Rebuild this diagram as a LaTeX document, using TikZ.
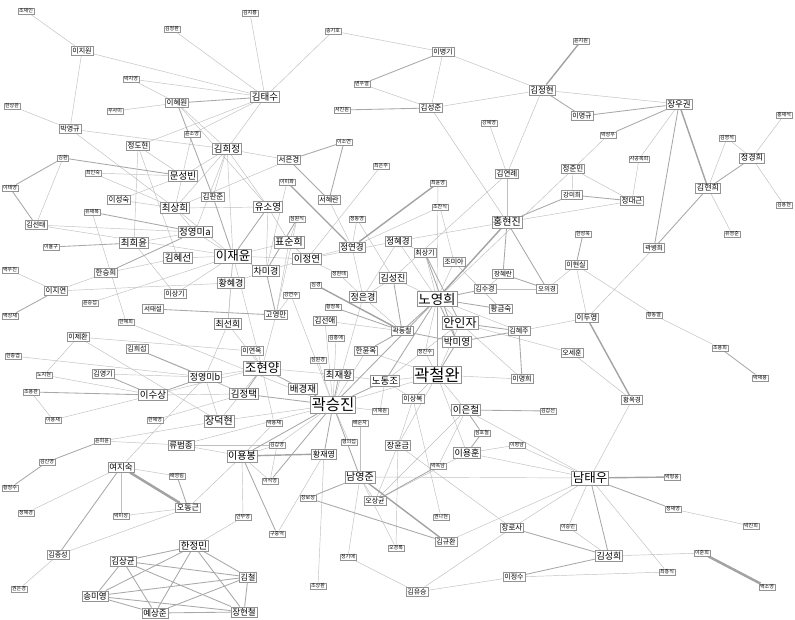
\documentclass[tikz,border=0pt]{standalone}
\usepackage{fontspec}
\setmainfont{Noto Sans CJK KR}
\usetikzlibrary{backgrounds}
\tikzset{
  nd/.style={draw=gray!85, fill=white, rectangle, inner sep=1.3pt, line width=0.6pt, text=black},
  nf/.style={nd, font=\fontsize{#1}{#1}\selectfont},
  ea/.style={draw=gray!50, line width=0.45pt},
  eb/.style={draw=gray!68, line width=0.85pt},
  ec/.style={draw=gray!72, line width=1.4pt},
  ed/.style={draw=gray!72, line width=2.5pt},
}
\begin{document}
\begin{tikzpicture}[x=1pt,y=-1pt]
\useasboundingbox (0,0) rectangle (795,620);
% nodes
\node[nf=5,inner sep=0.9pt] (n01) at (26,11) {조재인};
\node[nf=5,inner sep=0.9pt] (n02) at (250,13) {김지룡};
\node[nf=5,inner sep=0.9pt] (n03) at (172,29) {김정환};
\node[nf=5,inner sep=0.9pt] (n04) at (333,31) {송기호};
\node[nf=5,inner sep=0.9pt] (n05) at (581,41) {윤지원};
\node[nf=7] (n06) at (82,51) {이지원};
\node[nf=5,inner sep=0.9pt] (n07) at (131,79) {박지영};
\node[nf=7] (n08) at (443,52) {이병기};
\node[nf=8.5] (n09) at (542,90) {김정현};
\node[nf=5,inner sep=0.9pt] (n10) at (362,84) {변우열};
\node[nf=9.5] (n11) at (265,97) {김태수};
\node[nf=7.5] (n12) at (177,103) {이혜원};
\node[nf=5,inner sep=0.9pt] (n13) at (115,111) {우사미};
\node[nf=5,inner sep=0.9pt] (n14) at (12,106) {한상완};
\node[nf=5,inner sep=0.9pt] (n15) at (342,110) {서진원};
\node[nf=7.5] (n16) at (431,108) {김성준};
\node[nf=7] (n17) at (582,116) {이명규};
\node[nf=8.5] (n18) at (679,104) {장우권};
\node[nf=5,inner sep=0.9pt] (n19) at (489,123) {강혜영};
\node[nf=7] (n20) at (70,129) {박영규};
\node[nf=5,inner sep=0.9pt] (n21) at (192,134) {윤소영};
\node[nf=5,inner sep=0.9pt] (n22) at (608,135) {박성우};
\node[nf=5,inner sep=0.9pt] (n23) at (727,138) {김영석};
\node[nf=5,inner sep=0.9pt] (n24) at (784,115) {홍재석};
\node[nf=7.5] (n25) at (138,146) {정도현};
\node[nf=9.5] (n26) at (227,149) {김희정};
\node[nf=5,inner sep=0.9pt] (n27) at (344,142) {이소연};
\node[nf=7.5] (n28) at (289,160) {서은경};
\node[nf=5,inner sep=0.9pt] (n29) at (381,166) {최은주};
\node[nf=8] (n30) at (752,158) {정경희};
\node[nf=5,inner sep=0.9pt] (n31) at (639,159) {사공복희};
\node[nf=5,inner sep=0.9pt] (n32) at (63,158) {김환};
\node[nf=7.5] (n33) at (573,169) {정준민};
\node[nf=7.5] (n34) at (507,174) {김연례};
\node[nf=5,inner sep=0.9pt] (n35) at (93,173) {최인숙};
\node[nf=9.5] (n36) at (183,176) {문성빈};
\node[nf=5,inner sep=0.9pt] (n37) at (287,182) {이미화};
\node[nf=5,inner sep=0.9pt] (n38) at (438,183) {최윤영};
\node[nf=5,inner sep=0.9pt] (n39) at (10,188) {이태영};
\node[nf=8] (n40) at (708,188) {김현희};
\node[nf=6.5] (n41) at (572,195) {강미희};
\node[nf=7.5] (n42) at (632,201) {정대근};
\node[nf=7.5] (n43) at (119,200) {이성숙};
\node[nf=7.5] (n44) at (213,197) {김판준};
\node[nf=7] (n45) at (329,200) {서혜란};
\node[nf=9.5] (n46) at (175,208) {최상희};
\node[nf=9.5] (n47) at (268,207) {유소영};
\node[nf=5,inner sep=0.9pt] (n48) at (440,207) {조찬식};
\node[nf=5,inner sep=0.9pt] (n49) at (784,205) {김용현};
\node[nf=5,inner sep=0.9pt] (n50) at (92,212) {유재복};
\node[nf=7] (n51) at (36,225) {김선태};
\node[nf=10] (n52) at (507,222) {홍현진};
\node[nf=9.5] (n53) at (195,232) {정영미a};
\node[nf=9.5] (n54) at (134,243) {최희윤};
\node[nf=5,inner sep=0.9pt] (n55) at (51,247) {이율구};
\node[nf=5,inner sep=0.9pt] (n56) at (297,219) {심원식};
\node[nf=5,inner sep=0.9pt] (n57) at (357,219) {정동영};
\node[nf=10] (n58) at (289,242) {표순희};
\node[nf=8.5] (n59) at (352,247) {정연경};
\node[nf=8.5] (n60) at (398,241) {정혜경};
\node[nf=5,inner sep=0.9pt] (n61) at (583,234) {한성욱};
\node[nf=5,inner sep=0.9pt] (n62) at (732,234) {유영준};
\node[nf=6.5] (n63) at (654,248) {곽병희};
\node[nf=9.5] (n64) at (178,258) {김혜선};
\node[nf=12.5] (n65) at (233,256) {이재윤};
\node[nf=9.5] (n66) at (307,259) {이정연};
\node[nf=7] (n67) at (425,253) {최상기};
\node[nf=7] (n68) at (454,262) {조미아};
\node[nf=7] (n69) at (576,265) {이현실};
\node[nf=7.5] (n70) at (106,273) {한승희};
\node[nf=5,inner sep=0.9pt] (n71) at (10,270) {백우진};
\node[nf=9] (n72) at (266,271) {차미경};
\node[nf=5,inner sep=0.9pt] (n73) at (339,274) {정현태};
\node[nf=9] (n74) at (393,278) {김성진};
\node[nf=6.5] (n75) at (503,274) {장혜란};
\node[nf=7.5] (n76) at (56,291) {이지연};
\node[nf=9] (n77) at (231,283) {황혜경};
\node[nf=5,inner sep=0.9pt] (n78) at (316,285) {심경};
\node[nf=7] (n79) at (485,289) {김수경};
\node[nf=6.5] (n80) at (547,289) {오의경};
\node[nf=5,inner sep=0.9pt] (n81) at (90,303) {윤승섭};
\node[nf=7] (n82) at (175,294) {이상기};
\node[nf=5,inner sep=0.9pt] (n83) at (291,295) {강연수};
\node[nf=9] (n84) at (363,297) {정은경};
\node[nf=13.5] (n85) at (437,299) {노영희};
\node[nf=6.5] (n86) at (153,309) {서태설};
\node[nf=5,inner sep=0.9pt] (n87) at (333,307) {황정목};
\node[nf=7.5] (n88) at (501,309) {황금숙};
\node[nf=5,inner sep=0.9pt] (n89) at (10,316) {백성재};
\node[nf=7.5] (n90) at (276,315) {고영만};
\node[nf=7.5] (n91) at (325,321) {김선애};
\node[nf=5,inner sep=0.9pt] (n92) at (654,315) {황동열};
\node[nf=7.5] (n93) at (587,318) {이두영};
\node[nf=5,inner sep=0.9pt] (n94) at (126,322) {한혜희};
\node[nf=9] (n95) at (228,324) {최선희};
\node[nf=12] (n96) at (460,323) {안인자};
\node[nf=7] (n97) at (402,331) {곽동철};
\node[nf=7] (n98) at (519,331) {김혜주};
\node[nf=7] (n99) at (78,337) {이제환};
\node[nf=5,inner sep=0.9pt] (n100) at (336,338) {김홍애};
\node[nf=9.5] (n101) at (457,342) {박미영};
\node[nf=7] (n102) at (137,349) {김희섭};
\node[nf=7] (n103) at (252,351) {이연옥};
\node[nf=7.5] (n104) at (366,351) {한윤옥};
\node[nf=5,inner sep=0.9pt] (n105) at (425,352) {정진수};
\node[nf=7] (n106) at (572,353) {오세훈};
\node[nf=5,inner sep=0.9pt] (n107) at (720,348) {조용희};
\node[nf=5,inner sep=0.9pt] (n108) at (13,356) {한종엽};
\node[nf=5,inner sep=0.9pt] (n109) at (318,360) {심원경};
\node[nf=12.5] (n110) at (262,368) {조현양};
\node[nf=5,inner sep=0.9pt] (n111) at (44,375) {노지현};
\node[nf=7] (n112) at (103,374) {김영기};
\node[nf=9] (n113) at (205,377) {정영미b};
\node[nf=9.5] (n114) at (339,375) {최재황};
\node[nf=16.5] (n115) at (437,375) {곽철완};
\node[nf=9.5] (n116) at (385,381) {노동조};
\node[nf=7] (n117) at (522,379) {이명희};
\node[nf=5,inner sep=0.9pt] (n118) at (760,378) {박재용};
\node[nf=5,inner sep=0.9pt] (n119) at (31,392) {조용완};
\node[nf=9.5] (n120) at (153,395) {이수상};
\node[nf=9.5] (n121) at (303,389) {배경재};
\node[nf=9.5] (n122) at (244,394) {김정택};
\node[nf=7] (n123) at (413,399) {이상복};
\node[nf=6.5] (n124) at (632,400) {황옥경};
\node[nf=15.5] (n125) at (333,405) {곽승진};
\node[nf=5,inner sep=0.9pt] (n126) at (380,411) {이혜원};
\node[nf=9.5] (n127) at (466,410) {이은철};
\node[nf=5,inner sep=0.9pt] (n128) at (548,411) {김갑선};
\node[nf=5,inner sep=0.9pt] (n129) at (53,420) {이용재};
\node[nf=5,inner sep=0.9pt] (n130) at (155,420) {한혜영};
\node[nf=10] (n131) at (219,421) {장덕현};
\node[nf=5,inner sep=0.9pt] (n132) at (274,423) {박용재};
\node[nf=5,inner sep=0.9pt] (n133) at (360,423) {배순자};
\node[nf=5,inner sep=0.9pt] (n134) at (482,433) {심호철};
\node[nf=5,inner sep=0.9pt] (n135) at (102,441) {윤희윤};
\node[nf=8.5] (n136) at (181,445) {류범종};
\node[nf=5,inner sep=0.9pt] (n137) at (277,445) {김갑영};
\node[nf=5,inner sep=0.9pt] (n138) at (349,442) {형의섭};
\node[nf=8] (n139) at (398,445) {장윤금};
\node[nf=5,inner sep=0.9pt] (n140) at (517,445) {이명남};
\node[nf=10] (n141) at (242,456) {이용봉};
\node[nf=8] (n142) at (324,454) {황재영};
\node[nf=9] (n143) at (467,453) {이용훈};
\node[nf=5,inner sep=0.9pt] (n144) at (47,462) {김신영};
\node[nf=8.5] (n145) at (121,467) {여지숙};
\node[nf=5,inner sep=0.9pt] (n146) at (438,466) {박옥남};
\node[nf=5,inner sep=0.9pt] (n147) at (177,476) {배영림};
\node[nf=10] (n148) at (360,477) {남영준};
\node[nf=12.5] (n149) at (590,478) {남태우};
\node[nf=5,inner sep=0.9pt] (n150) at (672,477) {박형웅};
\node[nf=5,inner sep=0.9pt] (n151) at (270,481) {이석영};
\node[nf=5,inner sep=0.9pt] (n152) at (10,488) {황정수};
\node[nf=5,inner sep=0.9pt] (n153) at (308,498) {장보성};
\node[nf=7] (n154) at (375,501) {오상균};
\node[nf=8] (n155) at (188,508) {오동근};
\node[nf=5,inner sep=0.9pt] (n156) at (26,513) {정혜경};
\node[nf=5,inner sep=0.9pt] (n157) at (121,516) {박미성};
\node[nf=5,inner sep=0.9pt] (n158) at (243,517) {안부영};
\node[nf=5,inner sep=0.9pt] (n159) at (441,517) {권나현};
\node[nf=5,inner sep=0.9pt] (n160) at (673,509) {정재영};
\node[nf=5,inner sep=0.9pt] (n161) at (751,526) {박진희};
\node[nf=5,inner sep=0.9pt] (n162) at (277,534) {구중억};
\node[nf=7.5] (n163) at (512,528) {장로사};
\node[nf=5,inner sep=0.9pt] (n164) at (568,527) {이승민};
\node[nf=7] (n165) at (446,542) {김규환};
\node[nf=9.5] (n166) at (194,546) {한정민};
\node[nf=5,inner sep=0.9pt] (n167) at (396,548) {오경록};
\node[nf=5,inner sep=0.9pt] (n168) at (348,557) {정기애};
\node[nf=7] (n169) at (58,555) {김종성};
\node[nf=8.5] (n170) at (123,561) {김상균};
\node[nf=9] (n171) at (609,556) {김성희};
\node[nf=5,inner sep=0.9pt] (n172) at (702,553) {이준희};
\node[nf=8] (n173) at (248,577) {김철};
\node[nf=7] (n174) at (514,577) {이정수};
\node[nf=5,inner sep=0.9pt] (n175) at (667,572) {최흥식};
\node[nf=5,inner sep=0.9pt] (n176) at (767,587) {백소영};
\node[nf=5,inner sep=0.9pt] (n177) at (19,589) {권은경};
\node[nf=5,inner sep=0.9pt] (n178) at (318,586) {조상환};
\node[nf=8.5] (n179) at (95,596) {송미영};
\node[nf=7] (n180) at (417,592) {김유승};
\node[nf=8.5] (n181) at (244,612) {장현철};
\node[nf=8.5] (n182) at (155,613) {예상준};
% edges
\begin{pgfonlayer}{background}
\fill[white] (0,0) rectangle (795,620);
\foreach \a/\b in {n01/n06, n03/n11, n06/n11, n06/n20, n07/n11, n07/n12, n13/n12, n14/n20, n20/n26, n20/n46, n25/n11, n21/n11, n25/n36, n25/n54, n25/n64, n12/n26, n12/n47, n21/n46, n32/n51, n35/n36, n35/n46, n43/n36, n43/n46, n11/n26, n26/n44, n26/n46, n26/n47, n26/n28, n26/n36, n26/n65, n26/n53, n02/n11, n04/n11, n04/n08, n10/n16, n08/n09, n08/n16, n16/n09, n16/n52, n09/n18, n09/n34, n19/n34, n34/n52, n34/n74, n22/n33, n33/n41, n33/n85, n48/n68, n48/n59, n18/n31, n31/n42, n23/n40, n23/n30, n30/n24, n30/n49, n40/n62, n42/n33, n42/n52, n28/n46, n29/n66, n37/n72, n45/n59, n47/n58, n47/n72, n47/n46, n56/n58, n56/n90, n57/n59, n57/n74, n60/n52, n60/n66, n60/n84, n60/n85, n67/n85, n67/n60, n68/n85, n68/n88, n79/n80, n75/n79, n80/n69, n96/n85, n96/n106, n96/n117, n96/n115, n98/n93, n98/n85, n85/n74, n85/n105, n115/n105, n115/n117, n115/n104, n115/n143, n115/n127, n115/n123, n115/n125, n116/n115, n116/n96, n116/n123, n93/n63, n93/n69, n69/n92, n92/n107, n124/n106, n124/n149, n53/n51, n53/n54, n53/n65, n53/n46, n65/n58, n65/n72, n65/n81, n65/n46, n65/n82, n65/n110, n65/n66, n65/n95, n64/n70, n64/n65, n70/n76, n76/n71, n76/n77, n77/n65, n77/n72, n77/n95, n82/n54, n51/n65, n50/n94, n94/n125, n95/n113, n95/n110, n103/n99, n103/n110, n90/n58, n90/n83, n90/n110, n83/n125, n66/n58, n66/n72, n66/n59, n59/n84, n74/n84, n84/n97, n91/n97, n91/n125, n100/n125, n104/n125, n109/n125, n84/n125, n114/n110, n114/n116, n122/n113, n122/n102, n113/n112, n113/n108, n113/n110, n113/n131, n120/n111, n120/n129, n120/n110, n120/n122, n119/n129, n99/n111, n99/n131, n130/n122, n131/n135, n131/n125, n131/n110, n135/n136, n136/n141, n136/n137, n136/n125, n145/n147, n145/n157, n145/n156, n145/n113, n155/n157, n155/n169, n155/n141, n169/n177, n132/n141, n132/n110, n133/n148, n138/n125, n137/n141, n137/n125, n151/n137, n151/n141, n158/n141, n158/n166, n162/n142, n168/n180, n168/n148, n178/n142, n139/n115, n139/n123, n139/n154, n154/n148, n154/n143, n154/n127, n146/n127, n159/n123, n165/n149, n163/n149, n163/n180, n163/n139, n180/n174, n174/n175, n171/n164, n171/n172, n164/n149, n149/n175, n149/n143, n149/n140, n149/n127, n148/n149, n160/n161, n140/n143, n126/n125, n126/n116, n167/n148, n167/n139, n73/n66, n73/n84, n38/n85}
  \draw[ea] (\a) -- (\b);
\foreach \a/\b in {n12/n11, n12/n44, n32/n36, n32/n39, n39/n51, n10/n08, n15/n16, n09/n17, n18/n17, n18/n22, n18/n63, n40/n63, n30/n40, n41/n42, n41/n52, n27/n28, n27/n45, n28/n45, n44/n65, n47/n65, n56/n72, n53/n50, n53/n70, n54/n55, n76/n89, n86/n90, n72/n90, n67/n96, n67/n101, n79/n85, n75/n52, n75/n80, n80/n52, n88/n85, n96/n98, n98/n101, n98/n117, n101/n85, n101/n115, n101/n97, n85/n115, n85/n97, n85/n116, n87/n97, n104/n97, n74/n97, n61/n69, n107/n118, n114/n125, n116/n125, n121/n110, n121/n125, n122/n110, n122/n125, n113/n102, n113/n120, n120/n112, n120/n119, n125/n141, n125/n142, n125/n148, n125/n85, n141/n162, n151/n125, n148/n153, n153/n165, n146/n154, n134/n127, n134/n143, n127/n128, n163/n171, n171/n149, n174/n171, n149/n160, n145/n169, n155/n147, n144/n135, n144/n152,
  n170/n179, n170/n182, n170/n173, n170/n181, n170/n166, n179/n166, n179/n173, n179/n181, n179/n182, n182/n166, n182/n173, n182/n181, n166/n173, n166/n181, n173/n181}
  \draw[eb] (\a) -- (\b);
\foreach \a/\b in {n09/n05, n18/n40, n38/n59, n37/n59, n52/n85, n78/n97, n93/n124, n141/n142, n148/n165, n149/n150}
  \draw[ec] (\a) -- (\b);
\foreach \a/\b in {n145/n155, n172/n176}
  \draw[ed] (\a) -- (\b);
\end{pgfonlayer}
\end{tikzpicture}
\end{document}
